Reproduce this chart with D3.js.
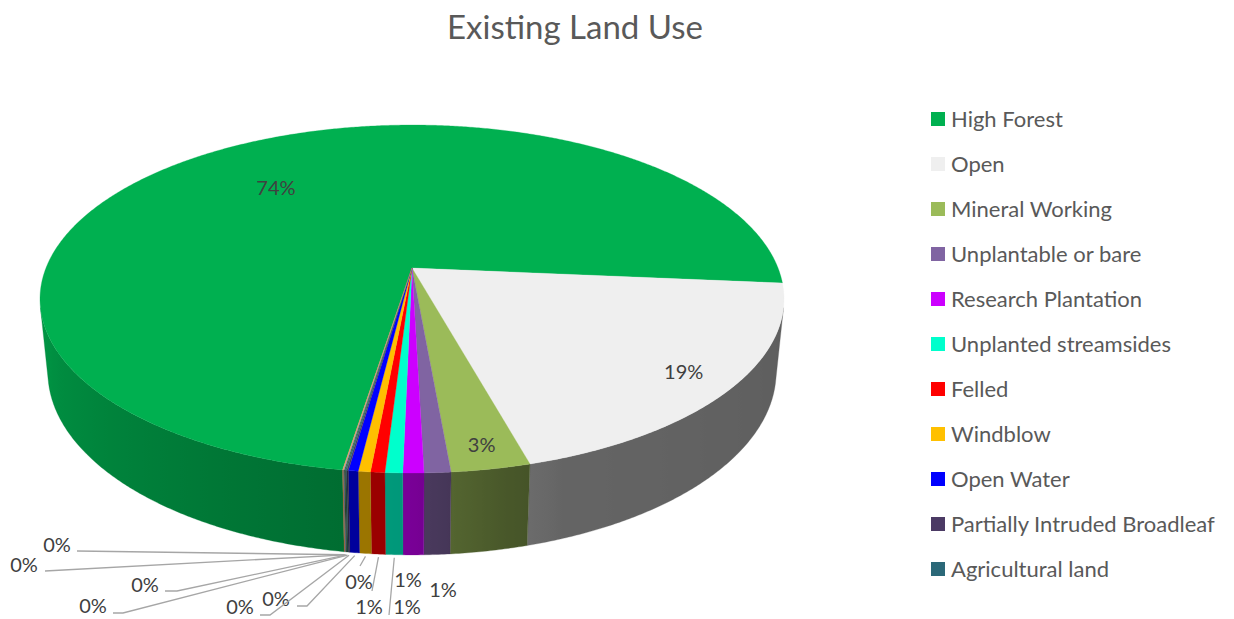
<!DOCTYPE html>
<html>
<head>
<meta charset="utf-8">
<script src="https://cdn.jsdelivr.net/npm/d3@7"></script>
<style>
  body { margin: 0; background: #fff; }
  text { font-family: Lato, "Open Sans", sans-serif; }
</style>
</head>
<body>
<svg id="chart" width="1234" height="619"></svg>
<script>
// data (percent of total area)
var categories = ["High Forest", "Open", "Mineral Working", "Unplantable or bare",
    "Research Plantation", "Unplanted streamsides", "Felled", "Windblow", "Open Water",
    "Partially Intruded Broadleaf", "Agricultural land", "(unlisted 1)", "(unlisted 2)", "(unlisted 3)"];
var values = [73.9, 19.3, 2.9, 0.97, 0.76, 0.64, 0.52, 0.44, 0.36, 0.06, 0.05, 0.04, 0.03, 0.03];
var legendCount = 11;   // only the first 11 categories are in the legend
var title = "Existing Land Use";

var colours = ["#00B050", "#EFEFEF", "#9BBB59", "#8064A2", "#CC00FF", "#00FFCC", "#FF0000",
    "#FFC000", "#0000FF", "#4B3A64", "#2B6878", "#43682B", "#698ED0", "#F1975A"];

// where Excel put the small labels (best fit result)
var labelPlace = [
    { r: 0.66 }, { r: 0.87 }, { r: 0.9 },
    { at: [443, 590] },
    { at: [408, 580] },
    { at: [407, 607], line: [[389, 615]] },
    { at: [369, 607], line: [[372, 591]] },
    { at: [359, 582], line: [[360, 566]] },
    { at: [276, 599], line: [[307, 606], [297, 606]] },
    { at: [240, 607], line: [[270, 615], [260, 615]] },
    { at: [93, 606], line: [[123, 613], [113, 613]] },
    { at: [145, 585], line: [[177, 591], [165, 591]] },
    { at: [24, 565], line: [[45, 571]] },
    { at: [57, 545], line: [[77, 551]] }
];

var svg = d3.select("#chart");
var defs = svg.append("defs");

// perspective camera for the 3d pie
var cx = 412, cy = 268, focal = 1824, dist = 4.983, thick = 0.2256;
var tilt = 27.4 * Math.PI / 180;
var cosT = Math.cos(tilt), sinT = Math.sin(tilt);

function project(a, r, h) {
    var X = r * Math.sin(a), Z = -r * Math.cos(a);
    var d = dist - (Z * cosT + h * sinT);
    var v = h * cosT - Z * sinT;
    return [cx + focal * X / d, cy - focal * v / d];
}

// how bright the wall is, by angle round the pie (degrees, 0 = back)
var light = d3.scaleLinear()
    .domain([100, 160, 168, 180, 190, 240, 262])
    .range([0.39, 0.42, 0.47, 0.59, 0.62, 0.79, 0.9])
    .clamp(true);

function shadeOf(col, a) {
    var k = light(a * 180 / Math.PI);
    var c = d3.rgb(col);
    return d3.rgb(c.r * k, c.g * k, c.b * k).toString();
}

var colour = d3.scaleOrdinal().domain(categories).range(colours);
var total = d3.sum(values);
var pct = d3.format(".0%");

var pie = d3.pie()
    .sort(null)
    .value(function(d) { return d.value; })
    .startAngle(189 * Math.PI / 180)
    .endAngle(189 * Math.PI / 180 + 2 * Math.PI);

var rows = categories.map(function(c, i) { return { name: c, value: values[i], i: i }; });
var arcs = pie(rows);

var line = d3.line();
var step = 0.4 * Math.PI / 180;
var TAU = 2 * Math.PI;

// side wall: only the part that faces the camera, one shape per slice with a gradient
var visMin = Math.acos(-1 / (dist * cosT)), visMax = TAU - visMin;
var sideG = svg.append("g").attr("class", "side");

arcs.forEach(function(s, i) {
    var a0 = s.startAngle, a1 = s.endAngle;
    var shift = Math.floor(a0 / TAU) * TAU;
    a0 -= shift; a1 -= shift;
    var parts = [[a0, a1], [a0 - TAU, a1 - TAU], [a0 + TAU, a1 + TAU]];
    parts.forEach(function(p, j) {
        var lo = Math.max(p[0], visMin), hi = Math.min(p[1], visMax);
        if (hi <= lo) return;
        var n = Math.max(2, Math.ceil((hi - lo) / step));
        var topPts = [], botPts = [];
        for (var k = 0; k <= n; k++) {
            var a = lo + (hi - lo) * k / n;
            topPts.push(project(a, 1, 0));
            botPts.push(project(a, 1, -thick));
        }
        var x0 = topPts[0][0], x1 = topPts[n][0];
        var id = "side" + i + "_" + j;
        var grad = defs.append("linearGradient")
            .attr("id", id)
            .attr("gradientUnits", "userSpaceOnUse")
            .attr("x1", x0).attr("y1", 0)
            .attr("x2", x1 === x0 ? x0 + 1 : x1).attr("y2", 0);
        var ns = Math.min(n, 40);
        for (var m = 0; m <= ns; m++) {
            var am = lo + (hi - lo) * m / ns;
            var xm = project(am, 1, 0)[0];
            grad.append("stop")
                .attr("offset", x1 === x0 ? 0 : (xm - x0) / (x1 - x0))
                .attr("stop-color", shadeOf(colour(s.data.name), am));
        }
        sideG.append("path")
            .attr("d", line(topPts.concat(botPts.reverse())) + "Z")
            .attr("fill", "url(#" + id + ")")
            .attr("stroke", shadeOf(colour(s.data.name), (lo + hi) / 2))
            .attr("stroke-width", 0.3);
    });
});

// top face
var topG = svg.append("g").attr("class", "top");
arcs.forEach(function(s) {
    var pts = [project(0, 0, 0)];
    var n = Math.max(2, Math.ceil((s.endAngle - s.startAngle) / step));
    for (var k = 0; k <= n; k++) {
        pts.push(project(s.startAngle + (s.endAngle - s.startAngle) * k / n, 1, 0));
    }
    topG.append("path")
        .attr("d", line(pts) + "Z")
        .attr("fill", colour(s.data.name))
        .attr("stroke", colour(s.data.name))
        .attr("stroke-width", 0.3);
});

// data labels
var labG = svg.append("g").attr("class", "labels");
arcs.forEach(function(s, i) {
    var place = labelPlace[i];
    var mid = (s.startAngle + s.endAngle) / 2;
    var pos;
    if (place.r !== undefined) {
        pos = project(mid, place.r, 0);
    } else {
        pos = place.at;
        if (place.line) {
            var p0 = project(mid, 1, -thick);
            var pts = [[p0[0], p0[1] + 3]].concat(place.line);
            labG.append("path")
                .attr("d", line(pts))
                .attr("fill", "none")
                .attr("stroke", "#A6A6A6")
                .attr("stroke-width", 1.3);
        }
    }
    labG.append("text")
        .attr("x", pos[0])
        .attr("y", pos[1])
        .attr("dy", "0.36em")
        .attr("text-anchor", "middle")
        .attr("font-size", 20)
        .attr("fill", "#404040")
        .text(pct(s.data.value / total));
});

// title
svg.append("text")
    .attr("x", 575)
    .attr("y", 39)
    .attr("text-anchor", "middle")
    .attr("font-size", 33)
    .attr("fill", "#595959")
    .text(title);

// legend
var legend = svg.append("g").attr("class", "legend")
    .selectAll("g")
    .data(categories.slice(0, legendCount))
    .join("g")
    .attr("transform", function(d, i) { return "translate(931," + (119 + i * 45) + ")"; });

legend.append("rect")
    .attr("x", 0).attr("y", -7)
    .attr("width", 14).attr("height", 14)
    .attr("fill", function(d) { return colour(d); });

legend.append("text")
    .attr("x", 20)
    .attr("dy", "0.36em")
    .attr("font-size", 22)
    .attr("fill", "#595959")
    .text(function(d) { return d; });
</script>
</body>
</html>
